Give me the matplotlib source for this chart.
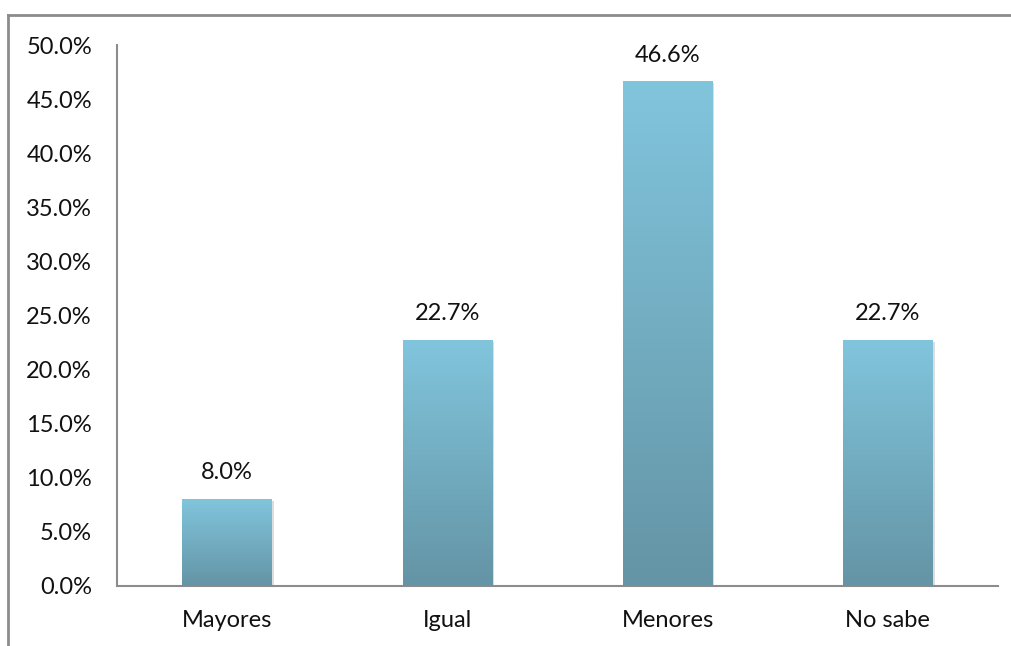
import numpy as np
import matplotlib.pyplot as plt
from matplotlib.colors import LinearSegmentedColormap
from matplotlib.lines import Line2D

categories = ['Mayores', 'Igual', 'Menores', 'No sabe']
values = [8.0, 22.7, 46.6, 22.7]
yticks = [0, 5, 10, 15, 20, 25, 30, 35, 40, 45, 50]

plt.rcParams['font.family'] = ['Lato', 'DejaVu Sans']

fig = plt.figure(figsize=(10.11, 6.46), dpi=100)
ax = fig.add_axes([0.1157, 0.0929, 0.8713, 0.8374])

# chart frame (top and left edges)
fig.add_artist(Line2D([0.008, 1.0], [0.977, 0.977], transform=fig.transFigure,
                      color='#8c8c8c', lw=2))
fig.add_artist(Line2D([0.008, 0.008], [0.0, 0.977], transform=fig.transFigure,
                      color='#8c8c8c', lw=2))

x = np.arange(len(categories))
bars = ax.bar(x, values, width=0.405, color='none', zorder=2)

grad_cmap = LinearSegmentedColormap.from_list('barfade', ['#6494a5', '#81c5dd'])
grad = np.linspace(0, 1, 256).reshape(-1, 1)
for b, v in zip(bars, values):
    x0 = b.get_x()
    w = b.get_width()
    # soft shadow on the right side
    ax.bar(x0 + w / 2 + 0.01, v - 0.15, width=w, color='#cfcfcf', alpha=0.7,
           zorder=1, linewidth=0)
    ax.imshow(grad, cmap=grad_cmap, origin='lower', aspect='auto',
              extent=[x0, x0 + w, 0, v], zorder=3)
    ax.text(b.get_x() + w / 2, v + 1.5, f'{v:.1f}%', ha='center', va='bottom',
            fontsize=17, color='#111111')

ax.set_xlim(-0.5, 3.5)
ax.set_ylim(0, 50)
ax.set_xticks(x)
ax.set_xticklabels(categories, fontsize=17, color='#111111')
ax.set_yticks(yticks)
ax.set_yticklabels([f'{t:.1f}%' for t in yticks], fontsize=17, color='#111111')
ax.tick_params(length=0)
ax.tick_params(axis='x', pad=17)
ax.tick_params(axis='y', pad=18)

for side in ['top', 'right']:
    ax.spines[side].set_visible(False)
for side in ['left', 'bottom']:
    ax.spines[side].set_color('#8c8c8c')
    ax.spines[side].set_linewidth(1.5)

fig.savefig('out.png', dpi=100)
